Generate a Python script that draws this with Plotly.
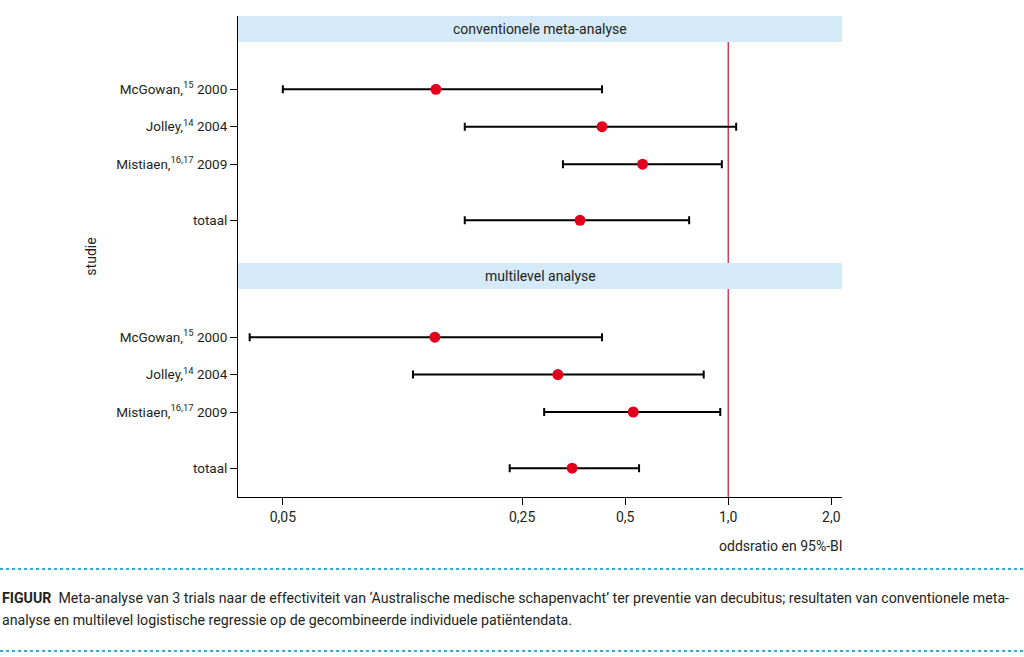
import plotly.graph_objects as go

# --- data (odds ratios with 95% CI) ---
studies = ["McGowan,<sup>15</sup> 2000", "Jolley,<sup>14</sup> 2004",
           "Mistiaen,<sup>16,17</sup> 2009", "totaal"]
panels = ["conventionele meta-analyse", "multilevel analyse"]

or_conv = [0.140, 0.428, 0.562, 0.369]
lo_conv = [0.050, 0.170, 0.329, 0.170]
hi_conv = [0.428, 1.055, 0.958, 0.769]

or_ml = [0.139, 0.318, 0.528, 0.350]
lo_ml = [0.040, 0.120, 0.290, 0.230]
hi_ml = [0.428, 0.848, 0.948, 0.549]

xtick_vals = [0.05, 0.25, 0.5, 1.0, 2.0]
xtick_text = ["0,05", "0,25", "0,5", "1,0", "2,0"]

FONT = "Roboto, Liberation Sans, sans-serif"
TXT = "#231f20"
RED = "#e2001a"
BAND = "#d4eaf8"

# layout in pixels
W, H = 1024, 657
L, R, T, B = 238, 182, 16, 160
row_pos = [0, 1, 2, 3.5]       # rows inside a panel
panel_off = [0, 6.62]          # panel offset
y_top, y_bot = -1.957, 10.89
bands = [(-1.957, -1.26), (4.64, 5.335)]

def px_x(px):
    return (px - L) / (W - L - R)

def px_y(py):
    return (H - B - py) / (H - T - B)

fig = go.Figure()

for p, (est, lo, hi) in enumerate([(or_conv, lo_conv, hi_conv), (or_ml, lo_ml, hi_ml)]):
    ys = [r + panel_off[p] for r in row_pos]
    fig.add_trace(go.Scatter(
        x=est, y=ys, mode="markers",
        marker=dict(color=RED, size=11),
        error_x=dict(type="data", symmetric=False,
                     array=[h - e for h, e in zip(hi, est)],
                     arrayminus=[e - l for e, l in zip(est, lo)],
                     color="black", thickness=2, width=4),
        showlegend=False, name=panels[p]))

    # header band
    fig.add_shape(type="rect", xref="paper", yref="y", x0=0, x1=1,
                  y0=bands[p][0], y1=bands[p][1], fillcolor=BAND, line_width=0,
                  layer="below")
    fig.add_annotation(text=panels[p], xref="paper", yref="y", x=0.5,
                       y=sum(bands[p]) / 2, showarrow=False,
                       font=dict(family=FONT, size=14, color=TXT))
    # reference line at OR = 1
    y_end = bands[1][0] if p == 0 else y_bot
    fig.add_shape(type="line", xref="x", yref="y", x0=1, x1=1,
                  y0=bands[p][1], y1=y_end, line=dict(color="#c8102e", width=1.2),
                  layer="below")

tick_y = [r + o for o in panel_off for r in row_pos]
fig.update_yaxes(range=[y_bot, y_top], tickvals=tick_y, ticktext=studies * 2,
                 ticks="outside", ticklen=7, tickcolor="black", showline=True,
                 linecolor="black", linewidth=1, showgrid=False, zeroline=False,
                 tickfont=dict(family=FONT, size=13.5, color=TXT),
                 title=dict(text="studie", standoff=16,
                            font=dict(family=FONT, size=14, color=TXT)))
fig.update_xaxes(type="log", range=[-1.432, 0.3324], tickvals=xtick_vals,
                 ticktext=xtick_text, ticks="outside", ticklen=7, tickcolor="black",
                 showline=True, linecolor="black", linewidth=1, showgrid=False,
                 zeroline=False, tickfont=dict(family=FONT, size=14, color=TXT))

fig.add_annotation(text="oddsratio en 95%-BI", xref="paper", yref="paper",
                   x=px_x(845), y=px_y(546), xanchor="right", yanchor="middle",
                   showarrow=False, font=dict(family=FONT, size=14, color=TXT))

# caption
for yy in (569, 651):
    fig.add_shape(type="line", xref="paper", yref="paper", x0=px_x(0), x1=px_x(W),
                  y0=px_y(yy), y1=px_y(yy), line=dict(color="#3aa8d4", width=2, dash="dot"))
caption = ["<b>FIGUUR</b>  Meta-analyse van 3 trials naar de effectiviteit van ‘Australische "
           "medische schapenvacht’ ter preventie van decubitus; resultaten van conventionele meta-",
           "analyse en multilevel logistische regressie op de gecombineerde individuele patiëntendata."]
for txt, yy in zip(caption, (598, 620)):
    fig.add_annotation(text=txt, xref="paper", yref="paper", x=px_x(0), y=px_y(yy),
                       xanchor="left", yanchor="middle", showarrow=False,
                       font=dict(family=FONT, size=14.2, color=TXT))

fig.update_layout(width=W, height=H, margin=dict(l=L, r=R, t=T, b=B),
                  plot_bgcolor="white", paper_bgcolor="white")

fig.write_html("out.html", config={"displayModeBar": False},
               post_script="document.body.style.margin='0';")
